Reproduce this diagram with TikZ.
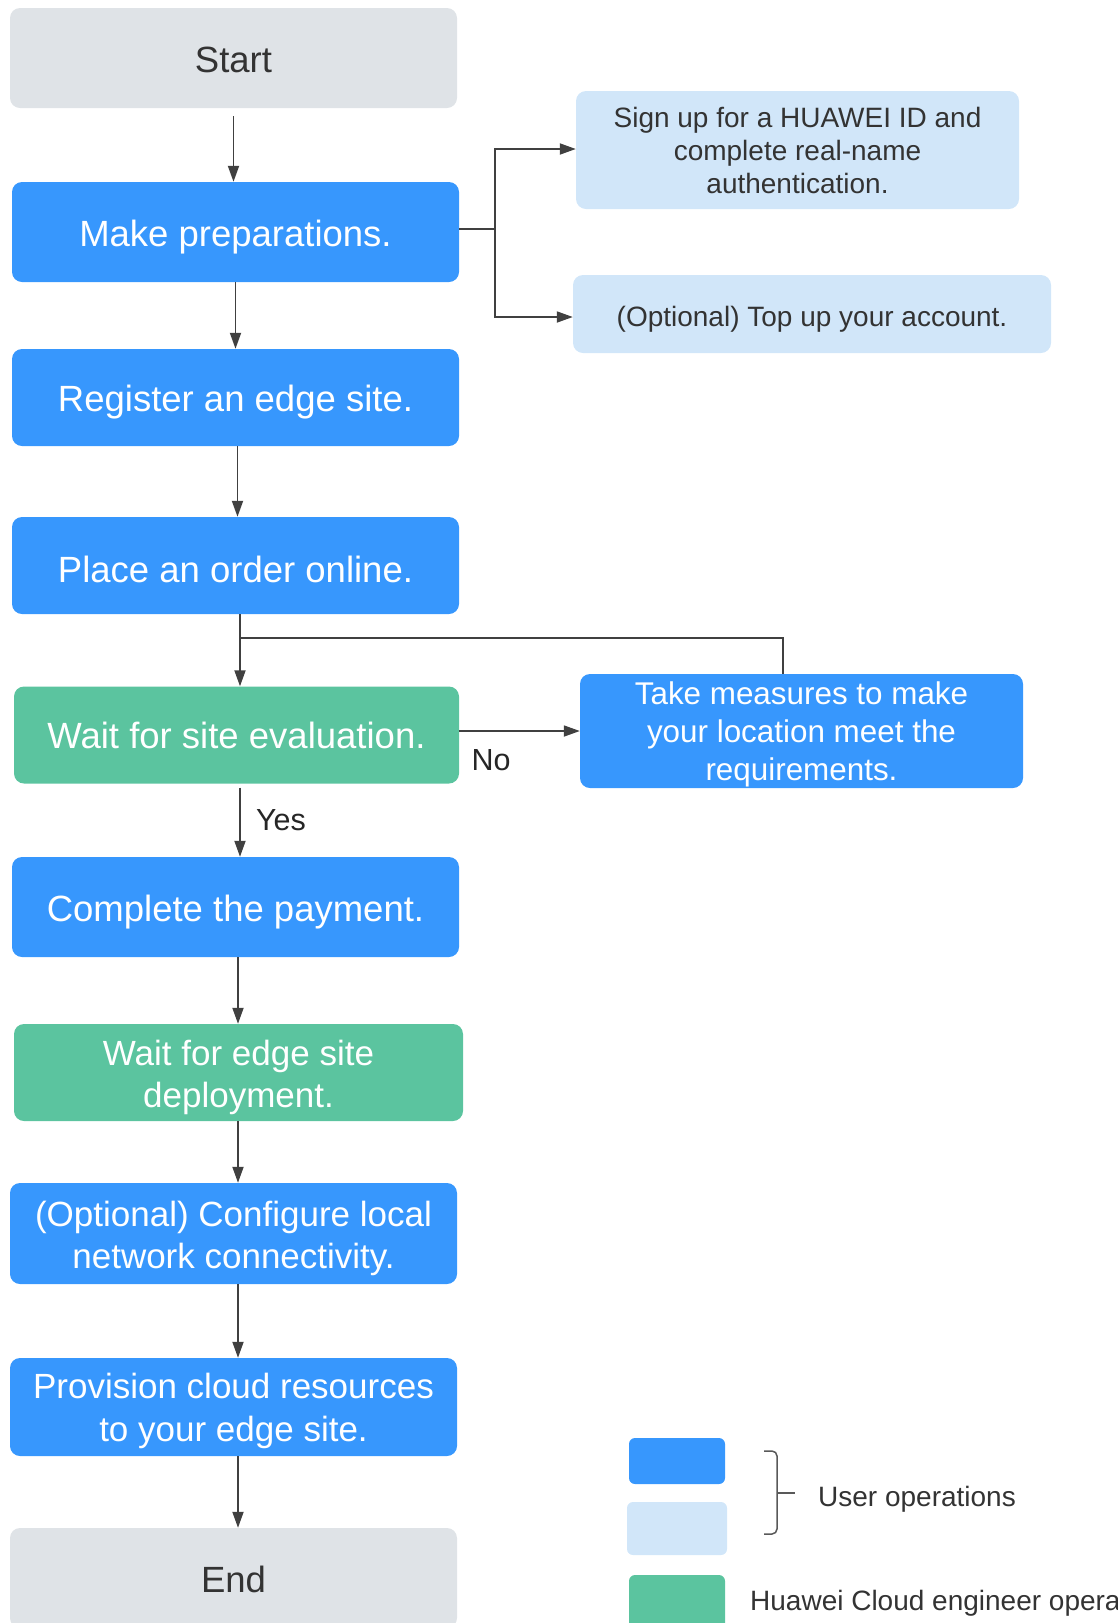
\documentclass[tikz,border=0pt]{standalone}
\usepackage{fontspec}
\setmainfont{Liberation Sans}
\usetikzlibrary{arrows.meta,calc}
\definecolor{ublue}{HTML}{3797FD}
\definecolor{lblue}{HTML}{D1E6F9}
\definecolor{egreen}{HTML}{5BC49F}
\definecolor{gbox}{HTML}{DFE3E7}
\definecolor{lncol}{HTML}{404040}
\definecolor{dtext}{HTML}{333333}
\tikzset{
  box/.style={rounded corners=10pt, inner sep=0pt, align=center},
  mainfont/.style={font=\fontsize{36.5}{44}\selectfont},
  twofont/.style={font=\fontsize{35}{42.5}\selectfont},
  userbox/.style={box, fill=ublue, text=white},
  engbox/.style={box, fill=egreen, text=white},
  termbox/.style={box, fill=gbox, text=dtext, mainfont},
  subbox/.style={box, fill=lblue, text=dtext, font=\fontsize{28}{33}\selectfont},
  arr/.style={draw=lncol, line width=1.8pt, -{Triangle[length=16pt,width=11pt]}},
  ln/.style={draw=lncol, line width=1.8pt},
  lbl/.style={text=black!85, font=\fontsize{30.5}{36}\selectfont, inner sep=0pt},
  legbox/.style={rounded corners=6pt, inner sep=0pt},
  legtext/.style={text=dtext, font=\fontsize{28}{33}\selectfont, inner sep=0pt, anchor=west}
}
% #1 style, #2 name, #3 cx, #4 cy, #5 width, #6 height, #7 text drop, #8 text
\newcommand\flowbox[8]{%
  \node[#1, minimum width=#5pt, minimum height=#6pt] (#2) at (#3,#4) {};
  \node[#1, fill=none, minimum width=0pt, minimum height=0pt] (#2-t) at ([yshift=-#7pt]#2.center) {#8};}
\begin{document}
\begin{tikzpicture}[x=1pt,y=-1pt]
\useasboundingbox (0,0) rectangle (1117,1623);
\clip (0,0) rectangle (1117,1623);
% main flow
\flowbox{termbox}{start}{233.5}{58}{447}{100}{2}{Start}
\flowbox{userbox,mainfont}{prep}{235.5}{232}{447}{100}{5}{Make preparations.}
\flowbox{userbox,mainfont}{reg}{235.5}{397.5}{447}{97}{5}{Register an edge site.}
\flowbox{userbox,mainfont}{place}{235.5}{565.5}{447}{97}{3.5}{Place an order online.}
\flowbox{engbox,mainfont}{wait}{236.5}{735}{445}{97}{0.5}{Wait for site evaluation.}
\flowbox{userbox,mainfont}{pay}{235.5}{907}{447}{100}{5}{Complete the payment.}
\flowbox{engbox,twofont}{deploy}{238.5}{1072.5}{449}{97}{5}{Wait for edge site\\deployment.}
\flowbox{userbox,twofont}{config}{233.5}{1233.5}{447}{101}{5}{(Optional) Configure local\\network connectivity.}
\flowbox{userbox,twofont}{prov}{233.5}{1407}{447}{98}{4}{Provision cloud resources\\to your edge site.}
\flowbox{termbox}{end}{233.5}{1578}{447}{100}{1}{End}
% side boxes
\flowbox{subbox}{signup}{797.5}{150}{443}{118}{0.5}{Sign up for a HUAWEI ID and\\complete real-name\\authentication.}
\flowbox{subbox}{topup}{812}{314}{478}{78}{5}{(Optional) Top up your account.}
\flowbox{userbox,font=\fontsize{31.4}{38}\selectfont}{takem}{801.5}{731}{443}{114}{3}{Take measures to make\\your location meet the\\requirements.}
% connectors
\draw[arr] (start.south) ++(0,8) -- (start.south |- prep.north);
\draw[arr] (prep.south) -- (prep.south |- reg.north);
\draw[arr] ([xshift=2pt]reg.south) -- ([xshift=2pt]reg.south |- place.north);
\coordinate (br) at (495,229);
\draw[ln] ([yshift=3pt]prep.east) -- (br);
\draw[arr] (br) |- (signup.west |- 0,149);
\draw[arr] (br) |- (topup.west |- 0,317);
\coordinate (loop) at (783,638);
\draw[arr] ([xshift=4.5pt]place.south) -- ([xshift=4.5pt]place.south |- wait.north);
\draw[ln] (takem.north -| loop) -- (loop) -- ([xshift=4.5pt]place.south |- loop);
\draw[arr] (wait.east |- takem.west) -- (takem.west);
\node[lbl, anchor=center] (no) at (491,760) {No};
\draw[arr] ([xshift=3.5pt]wait.south) ++(0,4) -- ([xshift=3.5pt]wait.south |- pay.north);
\node[lbl, anchor=center] (yes) at (281,820) {Yes};
\draw[arr] ([xshift=2.5pt]pay.south) -- ([xshift=2.5pt]pay.south |- deploy.north);
\draw[arr] ([xshift=-0.5pt]deploy.south) -- ([xshift=-0.5pt]deploy.south |- config.north);
\draw[arr] ([xshift=4.5pt]config.south) -- ([xshift=4.5pt]config.south |- prov.north);
\draw[arr] ([xshift=4.5pt]prov.south) -- ([xshift=4.5pt]prov.south |- end.north);
% legend
\node[legbox, fill=ublue, minimum width=96pt, minimum height=46pt] (lg1) at (677,1461) {};
\node[legbox, fill=lblue, minimum width=100pt, minimum height=53pt] (lg2) at (677,1528.5) {};
\node[legbox, fill=egreen, minimum width=96pt, minimum height=56pt] (lg3) at (677,1603) {};
\draw[draw=black!65, line width=1.5pt, rounded corners=5pt] (764,1451) -- (777,1451) -- (777,1534) -- (764,1534);
\coordinate (brmid) at (777,1493);
\draw[draw=black!65, line width=1.5pt] (brmid) -- ++(18,0);
\node[legtext] (uo) at (818,1499) {User operations};
\node[legtext] (hw) at (750,1603) {Huawei Cloud engineer operations};
\end{tikzpicture}
\end{document}
